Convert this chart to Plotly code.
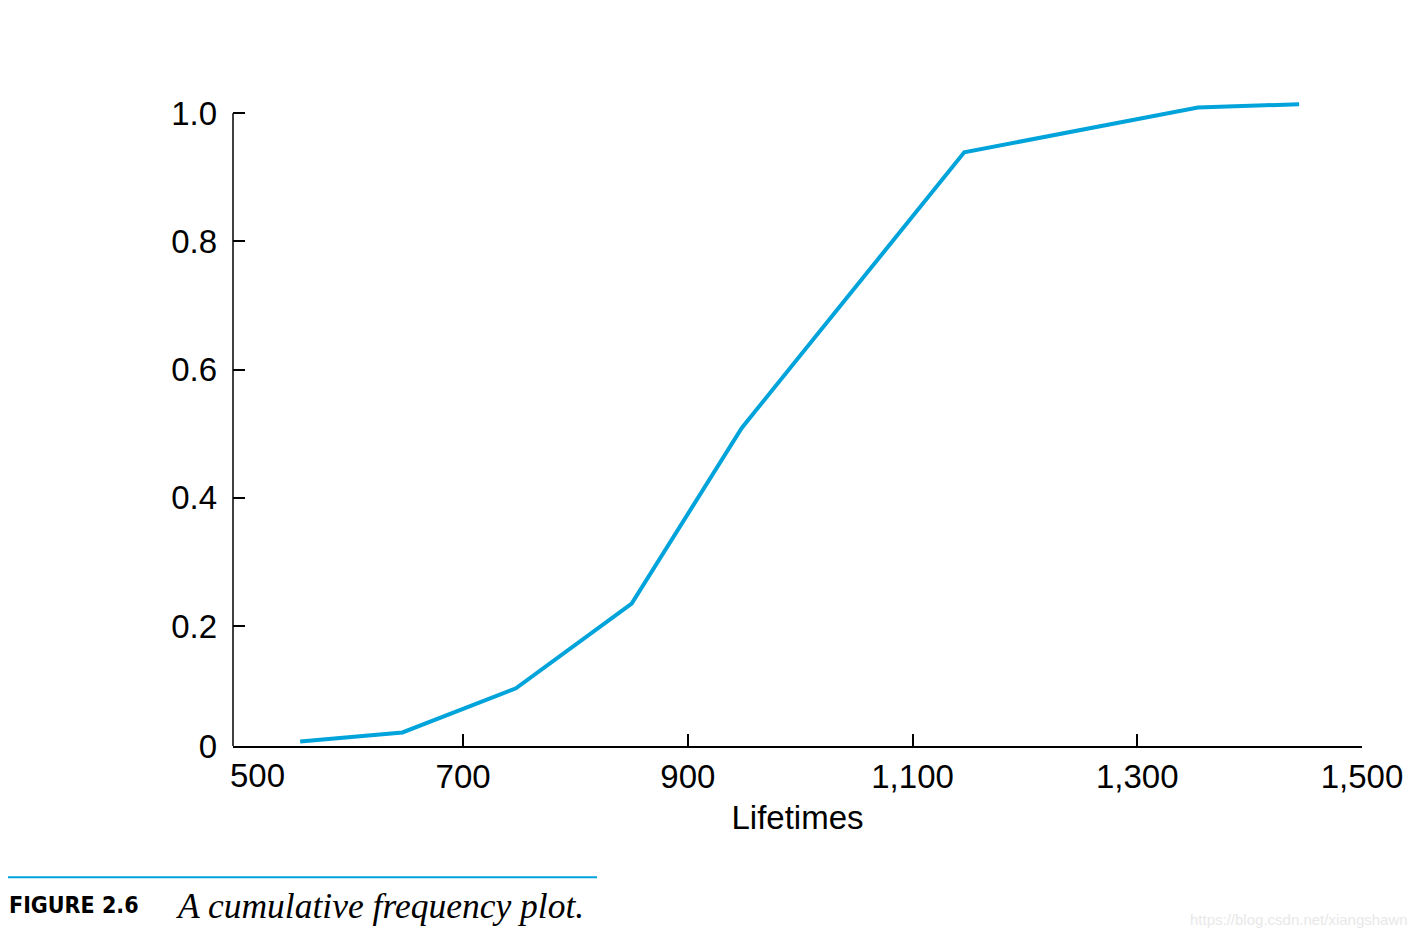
import plotly.graph_objects as go

# ---- data ----
lifetimes = [555, 646, 747, 850, 948, 1146, 1354, 1444]
cum_freq = [0.020, 0.034, 0.103, 0.235, 0.509, 0.939, 1.009, 1.014]

x_tickvals = [700, 900, 1100, 1300, 1500]
x_ticktext = ["700", "900", "1,100", "1,300", "1,500"]
y_bottom = 0.0129          # value where the x axis crosses (labelled "0")
y_tickvals = [y_bottom, 0.2, 0.4, 0.6, 0.8, 1.0]
y_ticktext = ["0", "0.2", "0.4", "0.6", "0.8", "1.0"]

W, H = 1418, 938
L, R, T, B = 233, 56, 93.5, 192.3
pw, ph = W - L - R, H - T - B

def px(xp):
    return (xp - L) / pw

def py(yp):
    return (H - B - yp) / ph

BLUE = "#00A3DA"
FONT = "Liberation Sans, Arial, Helvetica, sans-serif"

fig = go.Figure()
fig.add_trace(go.Scatter(
    x=lifetimes, y=cum_freq, mode="lines",
    line=dict(color=BLUE, width=4), hoverinfo="skip", showlegend=False))

fig.update_layout(
    width=W, height=H, autosize=False,
    margin=dict(l=L, r=R, t=T, b=B, pad=0),
    paper_bgcolor="white", plot_bgcolor="white",
    font=dict(family=FONT, size=33, color="black"),
    xaxis=dict(
        range=[495.2, 1500], tickmode="array", tickvals=x_tickvals, ticktext=x_ticktext,
        ticks="inside", ticklen=12, tickwidth=1.5, tickcolor="black",
        showline=True, linecolor="black", linewidth=1.5,
        showgrid=False, zeroline=False, ticklabelstandoff=1,
        tickfont=dict(size=33, family=FONT, color="black"),
        title=dict(text="Lifetimes", font=dict(size=33, family=FONT, color="black"), standoff=12),
    ),
    yaxis=dict(
        range=[y_bottom, 1.03], tickmode="array", tickvals=y_tickvals, ticktext=y_ticktext,
        ticks="inside", ticklen=12, tickwidth=1.5, tickcolor="black",
        showline=False, showgrid=False, zeroline=False, ticklabelstandoff=15,
        tickfont=dict(size=33, family=FONT, color="black"),
    ),
    shapes=[
        dict(type="line", xref="paper", yref="y", x0=0, x1=0, y0=y_bottom, y1=1.0,
             line=dict(color="black", width=1.5)),
        dict(type="line", xref="paper", yref="paper", x0=px(8), x1=px(597), y0=py(877), y1=py(877),
             line=dict(color=BLUE, width=2)),
    ],
    annotations=[
        dict(text="500", xref="x", yref="paper", x=500, y=0, xanchor="center", yanchor="top",
             xshift=19, yshift=-9, showarrow=False,
             font=dict(size=33, family=FONT, color="black")),
        dict(text="<b>FIGURE 2.6</b>", xref="paper", yref="paper", x=px(7), y=py(905),
             xanchor="left", yanchor="middle", showarrow=False,
             font=dict(size=23, family="Liberation Sans Narrow, DejaVu Sans Condensed, sans-serif",
                       color="black")),
        dict(text="<i>A cumulative frequency plot.</i>", xref="paper", yref="paper",
             x=px(174), y=py(906), xanchor="left", yanchor="middle", showarrow=False,
             font=dict(size=35.5, family="Liberation Serif, Times New Roman, serif", color="black")),
        dict(text="https://blog.csdn.net/xiangshawn", xref="paper", yref="paper",
             x=px(1410), y=py(919), xanchor="right", yanchor="middle", showarrow=False,
             font=dict(size=15, family=FONT, color="#e8e8e8")),
    ],
)

fig.write_html("out.html")
